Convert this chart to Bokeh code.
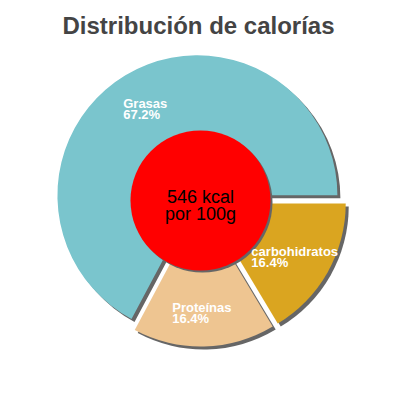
import numpy as np
from bokeh.plotting import figure
from bokeh.models import Range1d, ColumnDataSource
from bokeh.embed import file_html
from bokeh.resources import INLINE
from bokeh.core.properties import value

# ---- data ----
chart_title = "Distribución de calorías"
categories = ["Grasas", "Proteínas", "carbohidratos"]
percents = [67.2, 16.4, 16.4]
colors = ["#7AC5CD", "#EEC591", "#DAA520"]
center_lines = ["546 kcal", "por 100g"]

# ---- layout ----
W = H = 384
p = figure(width=W, height=H, x_range=Range1d(0, 384), y_range=Range1d(16, 400),
           output_backend="svg", toolbar_location=None, min_border=0)
p.axis.visible = False
p.grid.visible = False
p.outline_line_color = None
p.background_fill_color = "white"
p.border_fill_color = "white"

cx, cy = 200, 200
R = 140
explode = 6
sh = 3
FONT = value("Liberation Sans")

frac = np.array(percents) / sum(percents)
ends = np.cumsum(frac) * 2 * np.pi
starts = ends - frac * 2 * np.pi
mids = (starts + ends) / 2
xs = cx + explode * np.cos(mids)
ys = cy + explode * np.sin(mids)

src = ColumnDataSource(dict(x=xs, y=ys, sx=xs + sh, sy=ys - sh,
                            start=starts, end=ends, color=colors))
p.wedge(x="sx", y="sy", radius=R, start_angle="start", end_angle="end",
        fill_color="#666666", line_color=None, source=src)
p.wedge(x="x", y="y", radius=R, start_angle="start", end_angle="end",
        fill_color="color", line_color=None, source=src)

# center disc
p.circle(x=[cx + 2], y=[cy - 2], radius=70, fill_color="#666666", line_color=None)
p.circle(x=[cx], y=[cy], radius=70, fill_color="#FF0000", line_color=None)
p.text(x=[cx, cx], y=[cy + 4, cy - 13], text=center_lines, text_font=FONT,
       text_font_size="18px", text_align="center", text_baseline="alphabetic",
       text_color="black")

# slice labels
lab_r = 104
lx, ly, lt = [], [], []
for name, pct, x0, y0, m in zip(categories, percents, xs, ys, mids):
    ax = x0 + lab_r * np.cos(m)
    ay = y0 + lab_r * np.sin(m)
    lines = [name, f"{pct:.1f}%"]
    w = 6.9 * max(len(s) for s in lines)
    left = ax - w / 2
    lx += [left, left]
    ly += [ay + 3, ay - 8]
    lt += lines
p.text(x=lx, y=ly, text=lt, text_font=FONT, text_font_size="13px",
       text_font_style="bold", text_align="left", text_baseline="alphabetic",
       text_color="white")

# title
p.text(x=[198], y=[375], text=[chart_title], text_font=FONT, text_font_style="bold",
       text_font_size="24px", text_align="center", text_baseline="alphabetic",
       text_color="#444444")

open("out.html", "w").write(file_html(p, INLINE))
